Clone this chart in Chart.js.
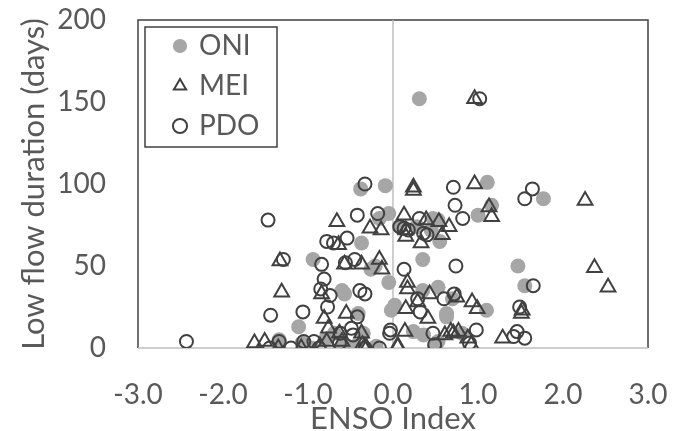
<!DOCTYPE html>
<html lang="en">
<head>
  <meta charset="UTF-8" />
  <title>Low flow duration vs ENSO Index</title>
  <script src="https://cdn.jsdelivr.net/npm/chart.js"></script>
  <style>
    html, body { margin: 0; padding: 0; background: #fff; }
  </style>
</head>
<body>
  <canvas id="scatter" width="677" height="431"></canvas>

  <script>
    // ONI
    const oniX = [0.31, -0.38, -0.09, 1.11, 1.77, 1.16, 1.0, -0.05, -0.16, 0.08, 0.47, 0.53, 0.28, 0.45,
      -0.37, 0.55, -0.94, 0.35, 1.47, -0.21, -0.26, -0.05, 1.55, -0.6, -0.57, 0.53, 0.35, 0.70, 1.1,
      0.02, -0.02, 0.63, 0.63, -0.41, -1.11, -0.69, -0.35, 0.24, 0.36, -1.34, -1.07, -0.56, -0.96,
      0.50, -0.2, 0.81, -0.58, -0.44, 0.53, -0.8];
    const oniY = [152, 97, 99, 101, 91, 87, 81, 82, 79, 74, 79, 78, 74, 72,
      64, 65, 54, 54, 50, 50, 48, 40, 38, 35, 33, 37, 35, 30, 23,
      26, 23, 21, 19, 21, 13, 9, 9, 10, 8, 5, 3, 0, 0,
      1, 1, 9, 2, 1, 4, 5];

    // MEI
    const meiX = [0.96, 0.24, 0.24, 0.96, 1.13, 1.16, 2.26, 0.13, 0.39, 0.54, 0.66, -0.66, -0.27, -0.14,
      0.15, 0.15, 0.33, 0.58, -0.64, -1.33, -0.57, -0.37, -0.16, -0.13, 2.37, 2.53, -1.31, -0.84,
      0.17, 0.17, 0.43, 0.29, 0.75, 0.93, 0.99, 0.15, 0.41, 1.51, 1.52, -0.81, -0.55, -0.76, -0.63,
      -0.37, 0.14, 0.61, 0.71, 0.77, 0.88, 0.92, 0.06, 1.29, -1.63, -1.51, -1.35, -1.08, -0.86,
      -0.78, -0.36, -0.31, -0.33, 0.05, -0.6, 0.68];
    const meiY = [152, 98, 96, 100, 86, 80, 90, 81, 78, 77, 74, 77, 73, 72,
      72, 68, 64, 69, 63, 53, 51, 51, 54, 48, 49, 37, 34, 33,
      40, 36, 33, 28, 31, 28, 24, 24, 18, 21, 23, 18, 21, 12, 9,
      9, 10, 8, 9, 10, 6, 2, 1, 6, 3, 4, 0, 0, 1,
      4, 2, 0, 1, 1, 4, 10];

    // PDO
    const pdoX = [1.02, -0.33, 0.71, 1.64, 1.55, 0.73, -1.47, -0.42, -0.18, 0.82, 0.31, 0.08, 0.13, 0.18,
      0.36, 0.40, -0.78, -0.70, -0.54, -1.29, -0.84, -0.56, -0.45, 0.74, 0.13, 1.65, -0.81, -0.85,
      -0.74, -0.39, -0.33, 0.29, 0.60, 0.72, -1.44, -1.06, -0.77, -0.42, 0.32, 1.49, -0.49, -0.62,
      -0.03, -0.04, 0.47, 0.98, 1.46, 1.42, 1.55, -2.43, -1.45, -1.34, -1.20, -1.05, -0.93, -0.87,
      -0.63, -0.47, -0.33, -0.16, 0.49, 0.90];
    const pdoY = [152, 100, 98, 97, 91, 87, 78, 81, 82, 79, 79, 74, 73, 72,
      70, 69, 65, 64, 67, 54, 51, 52, 54, 50, 48, 38, 42, 36,
      32, 35, 33, 30, 30, 33, 20, 22, 25, 19, 22, 25, 12, 9,
      11, 9, 9, 11, 10, 7, 6, 4, 0, 4, 0, 4, 4, 0,
      3, 8, 0, 0, 2, 3];

    const xTicks = [-3, -2, -1, 0, 1, 2, 3];
    const yTicks = [0, 50, 100, 150, 200];

    const ink = '#404040';
    const textGray = '#595959';
    const axisGray = '#bfbfbf';
    const font = { family: 'Lato', size: 28 };
    const titleFont = { family: 'Lato', size: 31, lineHeight: 0.5 };

    function pairs(xs, ys) {
      return xs.map((x, i) => ({ x: x, y: ys[i] }));
    }

    // frame, zero lines and the legend border
    const framePlugin = {
      id: 'frame',
      afterLayout(chart) {
        const a = chart.chartArea;
        chart.legend.left = a.left + 25;
        chart.legend.top = a.top;
        chart.legend.bottom = a.bottom;
      },
      beforeDatasetsDraw(chart) {
        const { ctx, chartArea: a, scales } = chart;
        const x0 = scales.x.getPixelForValue(0);
        const y0 = scales.y.getPixelForValue(0);
        ctx.save();
        ctx.lineWidth = 1.5;
        ctx.strokeStyle = ink;
        ctx.beginPath();
        ctx.moveTo(a.left, a.bottom);
        ctx.lineTo(a.left, a.top);
        ctx.lineTo(a.right, a.top);
        ctx.lineTo(a.right, a.bottom);
        ctx.stroke();
        ctx.strokeStyle = axisGray;
        ctx.beginPath();
        ctx.moveTo(x0, a.top);
        ctx.lineTo(x0, a.bottom);
        ctx.moveTo(a.left, y0);
        ctx.lineTo(a.right, y0);
        ctx.stroke();
        ctx.strokeStyle = ink;
        ctx.strokeRect(a.left + 7, a.top + 7, 132, 120);
        ctx.restore();
      }
    };

    new Chart(document.getElementById('scatter'), {
      type: 'scatter',
      data: {
        datasets: [
          {
            label: 'ONI',
            data: pairs(oniX, oniY),
            pointStyle: 'circle',
            pointRadius: 7.5,
            borderWidth: 0,
            backgroundColor: '#a6a6a6',
            borderColor: '#a6a6a6',
            order: 3
          },
          {
            label: 'MEI',
            data: pairs(meiX, meiY),
            pointStyle: 'triangle',
            pointRadius: 8.5,
            borderWidth: 2,
            backgroundColor: 'rgba(0,0,0,0)',
            borderColor: ink,
            order: 2
          },
          {
            label: 'PDO',
            data: pairs(pdoX, pdoY),
            pointStyle: 'circle',
            pointRadius: 6.5,
            borderWidth: 2,
            backgroundColor: 'rgba(0,0,0,0)',
            borderColor: ink,
            order: 1
          }
        ]
      },
      options: {
        responsive: false,
        devicePixelRatio: 1,
        animation: false,
        events: [],
        layout: { padding: { top: 20, right: 29, left: 0, bottom: 0 } },
        plugins: {
          tooltip: { enabled: false },
          legend: {
            position: 'chartArea',
            fullSize: false,
            align: 'start',
            labels: {
              usePointStyle: true,
              boxWidth: 10,
              boxHeight: 10,
              padding: 12,
              color: textGray,
              font: font,
              sort: (a, b) => a.datasetIndex - b.datasetIndex
            }
          }
        },
        scales: {
          x: {
            type: 'linear',
            min: xTicks[0],
            max: xTicks[xTicks.length - 1],
            afterBuildTicks: (s) => { s.ticks = xTicks.map(v => ({ value: v })); },
            afterFit: (s) => {
              s.height = 83;
              s.paddingLeft = 0;
              s.paddingRight = 0;
            },
            grid: { display: false, drawTicks: false },
            border: { display: false },
            ticks: {
              padding: 30,
              color: textGray,
              font: font,
              callback: (v) => v.toFixed(1)
            },
            title: {
              display: true,
              text: 'ENSO Index',
              color: textGray,
              font: titleFont,
              padding: { top: 0, bottom: 4 }
            }
          },
          y: {
            min: yTicks[0],
            max: yTicks[yTicks.length - 1],
            afterBuildTicks: (s) => { s.ticks = yTicks.map(v => ({ value: v })); },
            afterFit: (s) => {
              s.width = 138;
              s.paddingTop = 0;
              s.paddingBottom = 0;
            },
            grid: { display: false, drawTicks: false },
            border: { display: false },
            ticks: {
              padding: 32,
              color: textGray,
              font: font
            },
            title: {
              display: true,
              text: 'Low flow duration (days)',
              color: textGray,
              font: titleFont,
              padding: { top: 26, bottom: 0 }
            }
          }
        }
      },
      plugins: [framePlugin]
    });
  </script>
</body>
</html>
